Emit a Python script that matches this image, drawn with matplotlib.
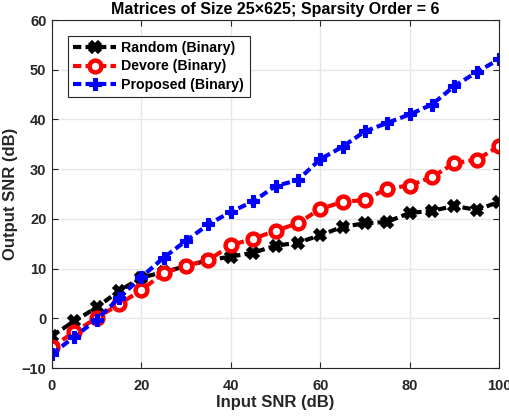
import numpy as np
import matplotlib.pyplot as plt

plt.rcParams['font.family'] = ['Liberation Sans', 'DejaVu Sans']
plt.rcParams['font.weight'] = 'bold'

# Input SNR values (dB)
inputSNR = [0, 5, 10, 15, 20, 25, 30, 35, 40, 45, 50, 55, 60, 65, 70, 75, 80, 85, 90, 95, 100]

# Output SNR for each method
randomBinary = [-3.5, -0.6, 2.2, 5.5, 8.2, 9.3, 10.5, 11.7, 12.4, 13.2, 14.6, 15.2, 16.7, 18.4, 19.1,
                19.4, 21.2, 21.6, 22.6, 21.8, 23.4]
devoreBinary = [-5.7, -2.8, 0.1, 2.8, 5.7, 9.1, 10.6, 11.7, 14.7, 16.0, 17.6, 19.1, 22.0, 23.4, 23.8,
                26.1, 26.7, 28.4, 31.2, 31.9, 34.6]
proposedBinary = [-7.2, -3.7, -0.3, 4.1, 8.3, 12.2, 15.6, 18.9, 21.4, 23.5, 26.6, 27.8, 32.0, 34.5, 37.6,
                  39.3, 41.0, 43.0, 46.7, 49.5, 52.1]

fig = plt.figure(figsize=(5.1, 4.18), dpi=100)
ax = fig.add_axes([52 / 510, 50 / 418, 447 / 510, 348 / 418])

axColor = (0.15, 0.15, 0.15)

ax.plot(inputSNR, randomBinary, '--', color='black', linewidth=3, marker='X', markersize=8,
        markeredgewidth=1.2, label='Random (Binary)', dashes=(2, 1))
ax.plot(inputSNR, devoreBinary, '--', color='red', linewidth=3, marker='o', markersize=8.5,
        markeredgewidth=3.2, markerfacecolor='white', label='Devore (Binary)', dashes=(2, 1))
ax.plot(inputSNR, proposedBinary, '--', color='blue', linewidth=3, marker='P', markersize=9,
        markeredgewidth=0.8, label='Proposed (Binary)', dashes=(2, 1))

ax.set_xlim(0, 100)
ax.set_ylim(-10, 60)
ax.set_xticks(np.arange(0, 101, 20))
ax.set_yticks(np.arange(-10, 61, 10))
ax.grid(True, color=(0.9, 0.9, 0.9), linewidth=1)
ax.set_axisbelow(True)
ax.tick_params(direction='in', top=True, right=True, length=4, colors=axColor, labelsize=10.5,
               labelcolor=axColor)
ax.tick_params(axis='x', pad=8)
ax.tick_params(axis='y', pad=4)
for spine in ax.spines.values():
    spine.set_color(axColor)

ax.set_title('Matrices of Size 25\u00d7625; Sparsity Order = 6', fontsize=11.5, fontweight='bold', pad=4)
ax.set_xlabel('Input SNR (dB)', fontsize=12, fontweight='bold', color=axColor, labelpad=1)
ax.set_ylabel('Output SNR (dB)', fontsize=12, fontweight='bold', color=axColor, labelpad=3)

leg = ax.legend(loc='upper left', fontsize=10.2, fancybox=False, framealpha=1, edgecolor=axColor,
                handlelength=3, handletextpad=0.4, borderaxespad=1.1, labelspacing=0.3,
                borderpad=0.4)
leg.get_frame().set_linewidth(0.8)

fig.savefig('out.png', dpi=100)
